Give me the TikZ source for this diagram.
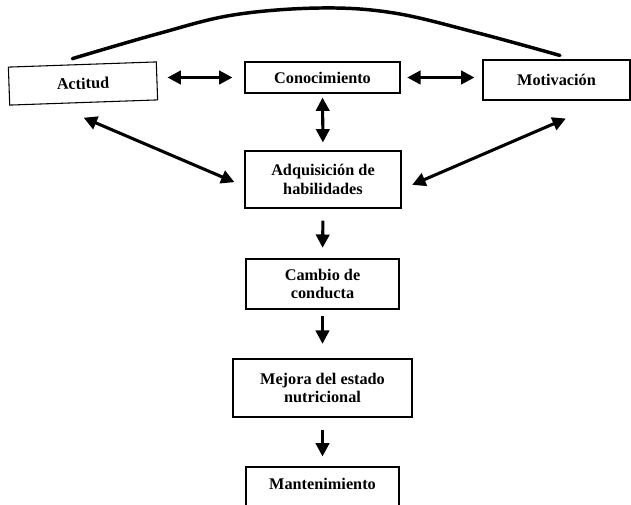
\documentclass[tikz,border=0pt]{standalone}
\usepackage{fontspec}
\setmainfont{Liberation Serif}
\usetikzlibrary{arrows.meta,calc}
\begin{document}
\begin{tikzpicture}[x=0.75pt,y=-0.75pt,
  box/.style={draw=black, line width=0.8pt, fill=white, inner sep=2pt, align=center,
    font=\bfseries\fontsize{12.2}{13.8}\selectfont},
  lbl/.style={inner sep=0pt, align=center, font=\bfseries\fontsize{12.2}{13.8}\selectfont},
  biarr/.style={line width=2.3pt, {Triangle[length=10pt,width=10pt]}-{Triangle[length=10pt,width=10pt]}},
  onearr/.style={line width=2.3pt, -{Triangle[length=10pt,width=10pt]}},
  arc/.style={line width=2.6pt, line cap=round}
]
\useasboundingbox (0,0) rectangle (631,504);
\clip (0,0) rectangle (631,504);

\node[box, minimum width=111pt, minimum height=28.5pt, rotate=2] (act) at (83,83.5) {Actitud};
\node[box, minimum width=116.25pt, minimum height=23.25pt] (con) at (322.5,77.5) {Conocimiento};
\node[box, minimum width=110.25pt, minimum height=30pt] (mot) at (556.5,80) {Motivación};
\node[box, minimum width=117pt, minimum height=42.75pt] (adq) at (323,179.5) {Adquisición de\\habilidades};
\node[box, minimum width=114.75pt, minimum height=37.5pt] (cam) at (322.5,284) {Cambio de\\conducta};
\node[box, minimum width=134.25pt, minimum height=43.5pt] (mej) at (322.5,388) {Mejora del estado\\nutricional};
\node[box, minimum width=114.75pt, minimum height=33pt] (man) at (322.5,489) {};
\node[lbl] (mantxt) at (322.5,484) {Mantenimiento};

% top arc
\coordinate (cl) at ([xshift=-7.5pt,yshift=4pt]act.north);
\coordinate (cr) at ([xshift=2.6pt,yshift=3pt]mot.north);
\draw[arc] plot[smooth, tension=0.6] coordinates {(cl) (157,34) (233,15) (320,8) (394,13) (478,33) (cr)};

% horizontal double arrows
\draw[biarr, shorten <=7.5pt, shorten >=9pt] (act.east |- con.west) -- (con.west);
\draw[biarr, shorten <=5pt, shorten >=6pt] (con.east) -- (mot.west |- con.east);
% vertical double arrow
\draw[biarr, shorten <=3pt, shorten >=6pt] (con.south) -- (adq.north);
% diagonals
\draw[biarr] ([yshift=-11pt]act.south) -- ([xshift=-7.5pt,yshift=-2pt]adq.west);
\draw[biarr] ([xshift=8pt,yshift=-4pt]adq.east) -- ([xshift=7pt,yshift=-13.5pt]mot.south);
% down arrows
\draw[onearr, shorten <=9pt, shorten >=8pt] (adq.south) -- (cam.north);
\draw[onearr, shorten <=5pt, shorten >=11pt] (cam.south) -- (mej.north);
\draw[onearr, shorten <=9pt, shorten >=7.5pt] (mej.south) -- (man.north);
\end{tikzpicture}
\end{document}
